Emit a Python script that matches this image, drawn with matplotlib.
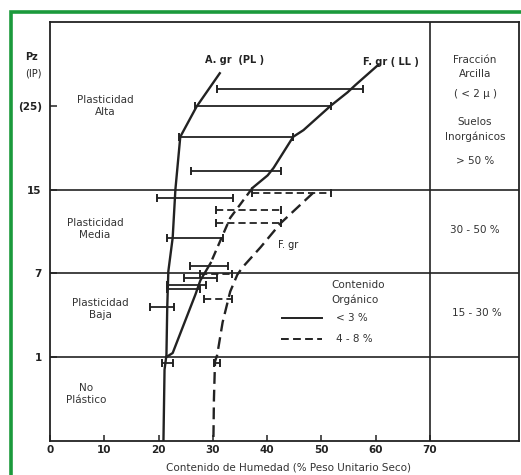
import numpy as np
import matplotlib
matplotlib.use('Agg')
import matplotlib.pyplot as plt
from matplotlib.patches import Rectangle

# ---------------- data ----------------
pi_ticks = [1, 7, 15, 25]
pi_ticklabels = ['1', '7', '15', '(25)']
x_ticks = [0, 10, 20, 30, 40, 50, 60, 70]

# scale breakpoints (PI value -> equal bands)
scale_pi = [0, 1, 7, 15, 25, 35]
scale_pos = [0, 1, 2, 3, 4, 5]

# A. gr (PL) curve
pl_x = [31.4, 27.0, 24.0, 23.6, 23.1, 22.6, 21.8, 21.6, 21.45, 21.1, 20.9]
pl_pi = [29.0, 24.9, 21.3, 18.5, 15.0, 10.4, 7.2, 4.6, 1.16, 0.85, 0.0]

# F. gr (LL) curve, inorganic
ll_x = [60.5, 56.3, 54.8, 51.7, 46.7, 44.8, 41.2, 40.1, 37.3, 33.2, 29.6, 27.7, 26.8, 22.6, 21.6]
ll_pi = [29.9, 27.5, 26.6, 25.0, 22.1, 21.3, 17.6, 16.7, 15.2, 12.3, 8.0, 6.5, 5.5, 1.3, 1.05]

# F. gr curve, organic (dashed)
llo_x = [48.5, 42.5, 38.8, 35.5, 34.5, 33.2, 31.8, 30.8, 30.4, 30.2, 30.1]
llo_pi = [14.7, 11.8, 9.5, 7.6, 6.9, 5.7, 3.5, 1.16, 0.95, 0.5, 0.0]

# ranges, organic content < 3 % (solid)
bar_pi = [27.0, 25.0, 21.3, 17.2, 14.2, 10.4, 7.7, 6.7, 6.2, 5.9, 4.6, 0.93]
bar_lo = [30.8, 26.8, 23.8, 25.9, 19.8, 21.6, 25.7, 24.6, 21.5, 21.5, 18.5, 20.7]
bar_hi = [57.7, 51.7, 44.8, 42.6, 33.8, 31.8, 32.7, 30.8, 28.8, 27.7, 22.9, 22.6]

# ranges, organic content 4 - 8 % (dashed)
dbar_pi = [14.7, 13.1, 11.8, 6.95, 5.2, 0.93]
dbar_lo = [37.3, 30.5, 30.5, 27.7, 28.3, 30.3]
dbar_hi = [51.7, 42.5, 42.5, 33.5, 33.6, 31.4]

# ---------------- figure ----------------
W, H = 521, 475
fig = plt.figure(figsize=(W / 100, H / 100), dpi=100)
fig.patch.set_facecolor('white')

def fx(x):
    return x / W

def fy(y):
    return 1 - y / H

# green border
fig.patches.append(Rectangle((fx(10.5), fy(560)), fx(600), fy(11.5) - fy(560),
                             transform=fig.transFigure, fill=False,
                             edgecolor='#1b9a3c', linewidth=2.6))

ax = fig.add_axes([fx(50), fy(441), fx(519) - fx(50), fy(22) - fy(441)])

fwd = lambda v: np.interp(v, scale_pi, scale_pos)
inv = lambda p: np.interp(p, scale_pos, scale_pi)
ax.set_yscale('function', functions=(fwd, inv))
ax.set_ylim(0, 35)
ax.set_xlim(0, 86.4)

ink = '#222222'
txt = '#333333'
for s in ax.spines.values():
    s.set_color(ink)
    s.set_linewidth(1.3)

ax.set_xticks(x_ticks)
ax.set_xticklabels([str(v) for v in x_ticks], fontsize=7.5, color=ink, fontweight='bold')
ax.set_yticks(pi_ticks)
ax.set_yticklabels(pi_ticklabels, fontsize=7.5, color=ink, fontweight='bold')
ax.tick_params(axis='x', direction='in', length=4, width=1.1, pad=3, color=ink)
ax.tick_params(axis='y', direction='in', length=5, width=1.1, pad=6, color=ink)
ax.yaxis.set_minor_locator(matplotlib.ticker.NullLocator())

# horizontal zone lines and column divider
for v in [1, 7, 15]:
    ax.axhline(v, color=ink, lw=1.2)
ax.axvline(70, color=ink, lw=1.2)

# curves
ax.plot(pl_x, pl_pi, color=ink, lw=1.7, solid_capstyle='butt')
ax.plot(ll_x[:9], ll_pi[:9], color=ink, lw=1.7)
ax.plot(ll_x[8:11], ll_pi[8:11], color=ink, lw=1.7, linestyle=(0, (4, 2.2)))
ax.plot(ll_x[10:], ll_pi[10:], color=ink, lw=1.7)
ax.plot(llo_x, llo_pi, color=ink, lw=1.7, linestyle=(0, (5, 2.5)))

# ranges
ax.hlines(bar_pi, bar_lo, bar_hi, colors=ink, lw=1.3)
ax.plot(bar_lo, bar_pi, '|', color=ink, ms=6, mew=1.4)
ax.plot(bar_hi, bar_pi, '|', color=ink, ms=6, mew=1.4)
ax.hlines(dbar_pi, dbar_lo, dbar_hi, colors=ink, lw=1.3, linestyles=[(0, (4, 2.2))])
ax.plot(dbar_lo, dbar_pi, '|', color=ink, ms=6, mew=1.4)
ax.plot(dbar_hi, dbar_pi, '|', color=ink, ms=6, mew=1.4)

# curve labels
fs = 7.5
fig.text(fx(235), fy(60), 'A. gr  (PL )', fontsize=7, color=ink, ha='center', va='center', fontweight='bold')
fig.text(fx(391), fy(62), 'F. gr ( LL )', fontsize=7, color=ink, ha='center', va='center', fontweight='bold')
fig.text(fx(288), fy(245), 'F. gr', fontsize=7, color=ink, ha='center', va='center')

# zone labels
fig.text(fx(105), fy(106), 'Plasticidad\nAlta', fontsize=fs, color=txt, ha='center', va='center', linespacing=1.15)
fig.text(fx(95), fy(229), 'Plasticidad\nMedia', fontsize=fs, color=txt, ha='center', va='center', linespacing=1.15)
fig.text(fx(100), fy(309), 'Plasticidad\nBaja', fontsize=fs, color=txt, ha='center', va='center', linespacing=1.15)
fig.text(fx(86), fy(394), 'No\nPlástico', fontsize=fs, color=txt, ha='center', va='center', linespacing=1.15)

# y axis caption
fig.text(fx(31), fy(57), 'Pz', fontsize=7, color=ink, ha='center', va='center', fontweight='bold')
fig.text(fx(33), fy(73), '(IP)', fontsize=7, color=ink, ha='center', va='center')

# right column
fig.text(fx(475), fy(60), 'Fracción', fontsize=fs, color=txt, ha='center', va='center')
fig.text(fx(475), fy(74), 'Arcilla', fontsize=fs, color=txt, ha='center', va='center')
fig.text(fx(475), fy(94), '( < 2 μ )', fontsize=fs, color=txt, ha='center', va='center')
fig.text(fx(475), fy(122), 'Suelos', fontsize=fs, color=txt, ha='center', va='center')
fig.text(fx(475), fy(137), 'Inorgánicos', fontsize=fs, color=txt, ha='center', va='center')
fig.text(fx(475), fy(161), '> 50 %', fontsize=fs, color=txt, ha='center', va='center')
fig.text(fx(475), fy(230), '30 - 50 %', fontsize=fs, color=txt, ha='center', va='center')
fig.text(fx(477), fy(313), '15 - 30 %', fontsize=fs, color=txt, ha='center', va='center')

# legend
fig.text(fx(358), fy(285), 'Contenido', fontsize=fs, color=txt, ha='center', va='center')
fig.text(fx(355), fy(300), 'Orgánico', fontsize=fs, color=txt, ha='center', va='center')
fig.add_artist(plt.Line2D([fx(282), fx(322)], [fy(318), fy(318)], color=ink, lw=1.4))
fig.add_artist(plt.Line2D([fx(281), fx(322)], [fy(339), fy(339)], color=ink, lw=1.4, linestyle=(0, (4, 2.2))))
fig.text(fx(336), fy(318), '< 3 %', fontsize=fs, color=txt, ha='left', va='center')
fig.text(fx(336), fy(339), '4 - 8 %', fontsize=fs, color=txt, ha='left', va='center')

# x axis title
fig.text(fx(288), fy(468), 'Contenido de Humedad (% Peso Unitario Seco)', fontsize=7.5, color=txt,
         ha='center', va='center')

fig.savefig('out.png', dpi=100)
